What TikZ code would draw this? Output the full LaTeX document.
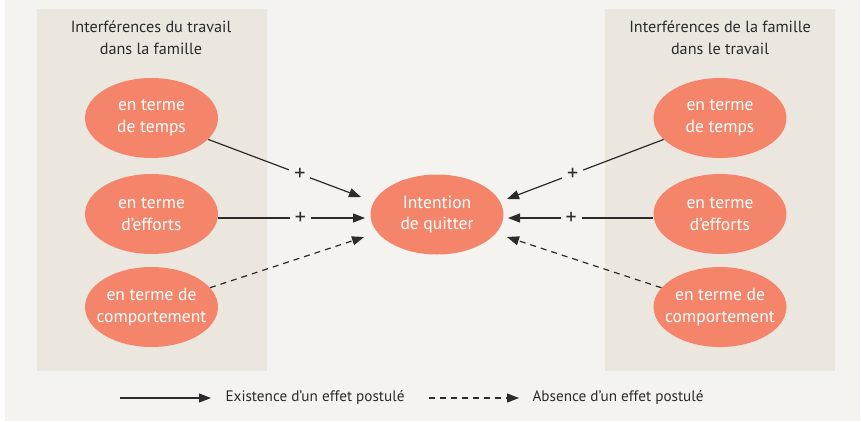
\documentclass[tikz,border=0pt]{standalone}
\usepackage{fontspec}
\setmainfont{PT Sans}
\usetikzlibrary{arrows.meta,shapes.geometric}
\definecolor{outerbg}{HTML}{F5F3EF}
\definecolor{boxbg}{HTML}{EBE7DF}
\definecolor{salmon}{HTML}{F4856A}
\definecolor{ink}{HTML}{2B2B2B}
\tikzset{
  oval/.style={ellipse, fill=salmon, text=white, minimum width=133pt, minimum height=80pt, inner xsep=-8pt, inner ysep=0pt, align=center, font=\fontsize{17.5}{21.5}\selectfont},
  title/.style={text=ink, align=center, font=\fontsize{16.2}{22}\selectfont},
  effect/.style={draw=ink, line width=1.2pt, -{Triangle[length=12pt,width=9pt]}},
  noeffect/.style={effect, dash pattern=on 6pt off 5pt},
  plus/.style={fill=outerbg, text=ink, inner sep=5pt, font=\fontsize{22}{22}\selectfont},
  legend/.style={text=ink, anchor=west, font=\fontsize{15.2}{17}\selectfont}
}
\begin{document}
\begin{tikzpicture}[x=1pt,y=-1pt]
\useasboundingbox (0,0) rectangle (861,421);
\fill[white] (0,0) rectangle (861,421);
\fill[outerbg] (5,0) rectangle (860,421);
\fill[boxbg] (37,9) rectangle (267,371);
\fill[boxbg] (605,9) rectangle (835,371);
\node[title] (tl) at (151,38) {Interférences du travail\\dans la famille};
\node[title] (tr) at (720,38) {Interférences de la famille\\dans le travail};
\node[oval] (l1) at (151.5,118) {en terme\\de temps};
\node[oval] (l2) at (151.5,214) {en terme\\d’efforts};
\node[oval] (l3) at (151.5,307) {en terme de\\comportement};
\node[oval] (r1) at (720,118) {en terme\\de temps};
\node[oval] (r2) at (720,214) {en terme\\d’efforts};
\node[oval] (r3) at (720,307) {en terme de\\comportement};
\node[oval] (c) at (437,214.5) {Intention\\de quitter};
\coordinate (cl1) at (361,197);
\coordinate (cl2) at (365,218);
\coordinate (cl3) at (364,237);
\coordinate (cr1) at (507,199);
\coordinate (cr2) at (508,218);
\coordinate (cr3) at (507,237);
\draw[effect] (l1) -- node[plus, pos=0.6] {+} (cl1);
\draw[effect] (l2.east |- cl2) -- node[plus, pos=0.56] {+} (cl2);
\draw[noeffect] (l3) -- (cl3);
\draw[effect] (r1) -- node[plus, pos=0.58] {+} (cr1);
\draw[effect] (r2.west |- cr2) -- node[plus, pos=0.566] {+} (cr2);
\draw[noeffect] (r3) -- (cr3);
\coordinate (ls1) at (120,398);
\coordinate (le1) at (211,398);
\coordinate (ls2) at (429,398);
\coordinate (le2) at (519,398);
\draw[effect] (ls1) -- (le1);
\node[legend] (t1) at (222,398) {Existence d’un effet postulé};
\draw[noeffect] (ls2) -- (le2);
\node[legend] (t2) at (529,398) {Absence d’un effet postulé};
\end{tikzpicture}
\end{document}
